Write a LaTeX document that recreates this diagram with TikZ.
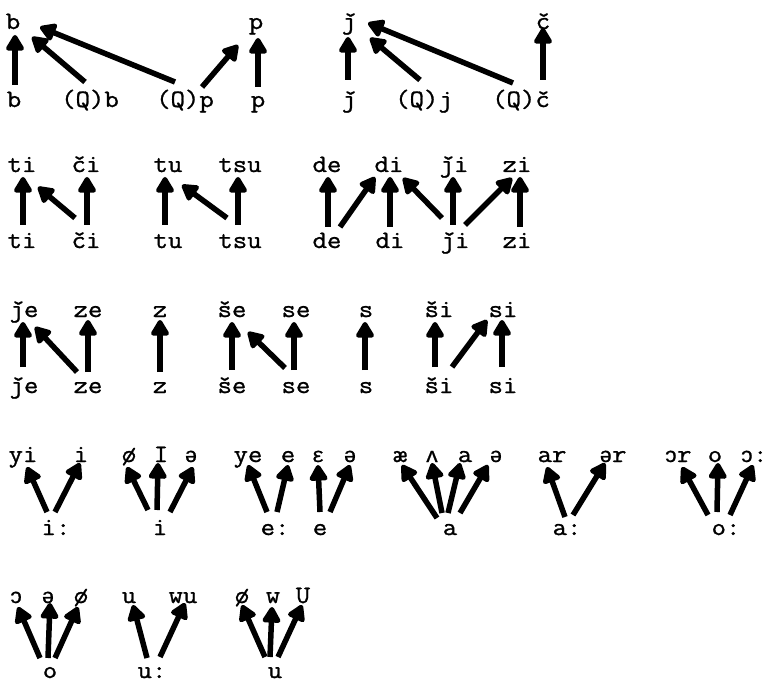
\documentclass[tikz,border=0pt]{standalone}
\usepackage{fontspec}
\newfontfamily\tw{Latin Modern Mono}[FakeBold=1.1, FakeStretch=1.12]
\newfontfamily\ipf{Liberation Mono}[FakeBold=0.8, Scale=0.84]
\newcommand\ipa[1]{{\ipf #1}}
\usetikzlibrary{arrows.meta}
\tikzset{
  lab/.style={font=\tw\fontsize{25}{25}\selectfont, inner sep=0pt, anchor=base},
  arr/.style={line width=5.5pt, -{Triangle[length=18pt,width=20pt,round]}}
}
\newcommand\myarr[4]{\draw[arr] ([shift={#2}]#1.base) -- ([shift={#4}]#3.base);}
\begin{document}
\begin{tikzpicture}[x=1pt,y=-1pt]
\useasboundingbox (0,0) rectangle (770,684);
% Row 1
\node[lab] (t1) at (13,29) {b};
\node[lab] (t2) at (256,29) {p};
\node[lab] (t3) at (349,29) {ǰ};
\node[lab] (t4) at (543,29) {č};
\node[lab] (b1) at (14,107) {b};
\node[lab] (b2) at (90,107) {(Q)b};
\node[lab] (b3) at (185,107) {(Q)p};
\node[lab] (b4) at (258,107) {p};
\node[lab] (b5) at (349,107) {ǰ};
\node[lab] (b6) at (424,107) {(Q)j};
\node[lab] (b7) at (521,107) {(Q)č};
\myarr{b1}{(1,-22)}{t1}{(2,6)}
\myarr{b2}{(-5,-25)}{t1}{(19,8)}
\myarr{b3}{(-10,-25)}{t1}{(27,-2)}
\myarr{b3}{(17,-20)}{t2}{(-18,16)}
\myarr{b4}{(0,-20)}{t2}{(2,9)}
\myarr{b5}{(-1,-27)}{t3}{(-1,8)}
\myarr{b6}{(-4,-27)}{t3}{(21,9)}
\myarr{b7}{(-8,-24)}{t3}{(19,-6)}
\myarr{b7}{(22,-27)}{t4}{(0,-1)}
% Row 2
\node[lab] (u1) at (22,172) {ti};
\node[lab] (u2) at (86,172) {či};
\node[lab] (u3) at (168,172) {tu};
\node[lab] (u4) at (240,172) {tsu};
\node[lab] (u5) at (327,172) {de};
\node[lab] (u6) at (389,172) {di};
\node[lab] (u7) at (454,172) {ǰi};
\node[lab] (u8) at (517,172) {zi};
\node[lab] (v1) at (22,248) {ti};
\node[lab] (v2) at (86,248) {či};
\node[lab] (v3) at (168,248) {tu};
\node[lab] (v4) at (240,248) {tsu};
\node[lab] (v5) at (327,248) {de};
\node[lab] (v6) at (390,248) {di};
\node[lab] (v7) at (455,248) {ǰi};
\node[lab] (v8) at (517,248) {zi};
\myarr{v1}{(1,-23)}{u1}{(1,5)}
\myarr{v2}{(-11,-30)}{u1}{(16,15)}
\myarr{v2}{(1,-23)}{u2}{(1,5)}
\myarr{v3}{(-3,-23)}{u3}{(-3,5)}
\myarr{v4}{(-13,-30)}{u3}{(14,13)}
\myarr{v4}{(-2,-23)}{u4}{(-2,5)}
\myarr{v5}{(1,-21)}{u5}{(1,5)}
\myarr{v5}{(13,-21)}{u6}{(-14,5)}
\myarr{v6}{(0,-21)}{u6}{(1,5)}
\myarr{v7}{(-13,-30)}{u6}{(14,6)}
\myarr{v7}{(-2,-23)}{u7}{(-1,5)}
\myarr{v7}{(10,-23)}{u8}{(-5,6)}
\myarr{v8}{(3,-21)}{u8}{(3,5)}
% Row 3
\node[lab] (w1) at (24,317) {ǰe};
\node[lab] (w2) at (88,317) {ze};
\node[lab] (w3) at (160,317) {z};
\node[lab] (w4) at (232,317) {še};
\node[lab] (w5) at (296,317) {se};
\node[lab] (w6) at (366,317) {s};
\node[lab] (w7) at (439,317) {ši};
\node[lab] (w8) at (503,317) {si};
\node[lab] (x1) at (24,393) {ǰe};
\node[lab] (x2) at (88,393) {ze};
\node[lab] (x3) at (160,393) {z};
\node[lab] (x4) at (232,393) {še};
\node[lab] (x5) at (296,393) {se};
\node[lab] (x6) at (366,393) {s};
\node[lab] (x7) at (439,393) {ši};
\node[lab] (x8) at (503,393) {si};
\myarr{x1}{(-1,-26)}{w1}{(-1,5)}
\myarr{x2}{(-11,-21)}{w1}{(11,10)}
\myarr{x2}{(0,-21)}{w2}{(0,3)}
\myarr{x3}{(0,-21)}{w3}{(0,3)}
\myarr{x4}{(0,-23)}{w4}{(0,5)}
\myarr{x5}{(-11,-25)}{w4}{(16,15)}
\myarr{x5}{(-2,-23)}{w5}{(-2,5)}
\myarr{x6}{(-1,-23)}{w6}{(-1,5)}
\myarr{x7}{(-4,-26)}{w7}{(-4,5)}
\myarr{x7}{(13,-26)}{w8}{(-16,3)}
\myarr{x8}{(-1,-26)}{w8}{(-1,3)}
% Row 4
\node[lab] (y1) at (23,462) {yi};
\node[lab] (y2) at (81,462) {i};
\node[lab] (y3) at (129,462) {ø};
\node[lab] (y4) at (161,462) {I};
\node[lab] (y5) at (191,462) {\ipa{ə}};
\node[lab] (y6) at (248,462) {ye};
\node[lab] (y7) at (288,462) {e};
\node[lab] (y8) at (318,462) {\ipa{ɛ}};
\node[lab] (y9) at (350,462) {\ipa{ə}};
\node[lab] (y10) at (400,462) {æ};
\node[lab] (y11) at (432,462) {\ipa{ʌ}};
\node[lab] (y12) at (465,462) {a};
\node[lab] (y13) at (496,462) {\ipa{ə}};
\node[lab] (y14) at (552,462) {ar};
\node[lab] (y15) at (613,462) {\ipa{ə}r};
\node[lab] (y16) at (678,462) {\ipa{ɔ}r};
\node[lab] (y17) at (715,462) {o};
\node[lab] (y18) at (754,462) {\ipa{ɔ}:};
\node[lab] (z1) at (56,535) {i:};
\node[lab] (z2) at (160,535) {i};
\node[lab] (z3) at (275,535) {e:};
\node[lab] (z4) at (320,535) {e};
\node[lab] (z5) at (450,535) {a};
\node[lab] (z6) at (567,535) {a:};
\node[lab] (z7) at (726,535) {o:};
\myarr{z1}{(-9,-23)}{y1}{(4,5)}
\myarr{z1}{(-1,-23)}{y2}{(-1,1)}
\myarr{z2}{(-12,-25)}{y3}{(-2,5)}
\myarr{z2}{(-3,-25)}{y4}{(-3,1)}
\myarr{z2}{(10,-23)}{y5}{(2,5)}
\myarr{z3}{(-8,-23)}{y6}{(0,3)}
\myarr{z3}{(2,-23)}{y7}{(0,3)}
\myarr{z4}{(0,-23)}{y8}{(0,3)}
\myarr{z4}{(10,-23)}{y9}{(0,3)}
\myarr{z5}{(-13,-17)}{y10}{(2,3)}
\myarr{z5}{(-8,-22)}{y11}{(0,1)}
\myarr{z5}{(-2,-22)}{y12}{(-5,1)}
\myarr{z5}{(10,-22)}{y13}{(-8,3)}
\myarr{z6}{(-2,-18)}{y14}{(-5,5)}
\myarr{z6}{(6,-20)}{y15}{(-8,1)}
\myarr{z7}{(-18,-20)}{y16}{(4,5)}
\myarr{z7}{(-9,-23)}{y17}{(3,1)}
\myarr{z7}{(4,-20)}{y18}{(-1,3)}
% Row 5
\node[lab] (q1) at (16,603) {\ipa{ɔ}};
\node[lab] (q2) at (48,603) {\ipa{ə}};
\node[lab] (q3) at (81,603) {ø};
\node[lab] (q4) at (129,603) {u};
\node[lab] (q5) at (183,603) {wu};
\node[lab] (q6) at (242,603) {ø};
\node[lab] (q7) at (273,603) {w};
\node[lab] (q8) at (303,603) {U};
\node[lab] (r1) at (50,678) {o};
\node[lab] (r2) at (152,678) {u:};
\node[lab] (r3) at (275,678) {u};
\myarr{r1}{(-10,-20)}{q1}{(2,4)}
\myarr{r1}{(-2,-20)}{q2}{(2,0)}
\myarr{r1}{(5,-20)}{q3}{(-3,4)}
\myarr{r2}{(-5,-20)}{q4}{(4,2)}
\myarr{r2}{(8,-21)}{q5}{(2,0)}
\myarr{r3}{(-10,-21)}{q6}{(0,2)}
\myarr{r3}{(-5,-21)}{q7}{(-1,4)}
\myarr{r3}{(3,-21)}{q8}{(-1,2)}
\end{tikzpicture}
\end{document}
